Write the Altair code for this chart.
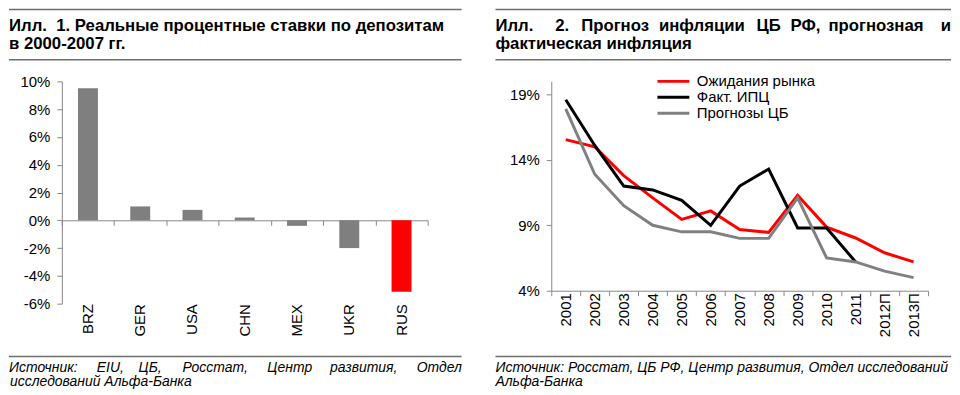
import altair as alt
import pandas as pd

FONT = "Liberation Sans"
NB = "\u00a0"

# ---- Left panel data
countries = ["BRZ", "GER", "USA", "CHN", "MEX", "UKR", "RUS"]
rates = [9.5, 1.0, 0.75, 0.2, -0.4, -2.0, -5.15]
bar_colors = ["#7f7f7f", "#7f7f7f", "#7f7f7f", "#7f7f7f", "#7f7f7f", "#7f7f7f", "#ff0000"]
left_ticks = [-6, -4, -2, 0, 2, 4, 6, 8, 10]

# ---- Right panel data
years = ["2001", "2002", "2003", "2004", "2005", "2006", "2007", "2008",
         "2009", "2010", "2011", "2012П", "2013П"]
market = [15.55, 15.0, 12.8, 11.1, 9.45, 10.1, 8.67, 8.46, 11.3, 8.86, 8.03, 6.9, 6.2]
cpi = [18.6, 15.1, 12.0, 11.7, 10.9, 9.0, 12.0, 13.3, 8.8, 8.8, 6.2, None, None]
cbr = [17.9, 12.9, 10.5, 9.0, 8.5, 8.5, 8.0, 8.0, 11.1, 6.5, 6.2, 5.5, 5.0]
series_names = ["Ожидания рынка", "Факт. ИПЦ", "Прогнозы ЦБ"]
series_colors = ["#ff0000", "#000000", "#808080"]
right_ticks = [4, 9, 14, 19]

# ---- Texts (justified lines are split into words)
title_left_1 = "Илл." + NB + NB + "1. Реальные процентные ставки по депозитам"
title_left_2 = "в 2000-2007 гг."
title_right_1 = ["Илл.", "2.", "Прогноз", "инфляции", "ЦБ", "РФ,", "прогнозная", "и"]
title_right_2 = "фактическая инфляция"
source_left_1 = ["Источник:", "EIU,", "ЦБ,", "Росстат,", "Центр", "развития,", "Отдел"]
source_left_2 = "исследований Альфа-Банка"
source_right_1 = "Источник: Росстат, ЦБ РФ, Центр развития, Отдел исследований"
source_right_2 = "Альфа-Банка"

df_bar = pd.DataFrame({"country": countries, "rate": rates})
rows = []
for name, vals in zip(series_names, [market, cpi, cbr]):
    for y, v in zip(years, vals):
        if v is not None:
            rows.append({"year": y, "series": name, "value": v})
df_line = pd.DataFrame(rows)
one = pd.DataFrame({"k": [0]})

TITLE_SIZE = 16.8
SRC_SIZE = 14


def txt(s, x, y, size, weight="normal", style="normal", align="left"):
    return alt.Chart(one).mark_text(
        text=s, align=align, baseline="alphabetic", font=FONT, fontSize=size,
        fontWeight=weight, fontStyle=style, color="black"
    ).encode(x=alt.value(x), y=alt.value(y))


def words(ws, xs, y, size, weight="normal", style="normal"):
    return [txt(w, x, y, size, weight, style) for w, x in zip(ws, xs)]


def rule(x1, x2, y):
    return alt.Chart(one).mark_rule(color="#6e6e6e", strokeWidth=1.5).encode(
        x=alt.value(x1), x2=alt.value(x2), y=alt.value(y))


def axis_y(vals):
    return alt.Axis(values=vals, labelExpr="datum.value + '%'", title=None, grid=False,
                    tickSize=5, domainColor="#888888", tickColor="#888888", labelFontSize=15,
                    labelPadding=7, labelColor="black", labelFont=FONT)


LH = 223
yenc = alt.Y("rate:Q", scale=alt.Scale(domain=[-6, 10], nice=False, zero=False), axis=axis_y(left_ticks))
bars = alt.Chart(df_bar).mark_bar(size=20).encode(
    x=alt.X("country:N", sort=countries,
            scale=alt.Scale(paddingInner=0, paddingOuter=0),
            axis=alt.Axis(title=None, orient="bottom", labelAngle=270, domain=False, ticks=False,
                          labelFontSize=15, labelPadding=0, labelColor="black", labelFont=FONT)),
    y=yenc,
    color=alt.Color("country:N", scale=alt.Scale(domain=countries, range=bar_colors), legend=None),
)
zero_axis = alt.Chart(df_bar).mark_bar(opacity=0).encode(
    x=alt.X("country:N", sort=countries,
            axis=alt.Axis(title=None, orient="bottom", labels=False, domain=True, ticks=True,
                          tickBand="extent", offset=-(LH * 6 / 16), domainColor="#888888",
                          tickColor="#888888", tickSize=5)),
    y=yenc,
)
left_deco = [
    rule(-53, 401, -72),
    txt(title_left_1, -53, -51, TITLE_SIZE, "bold"),
    txt(title_left_2, -53, -32, TITLE_SIZE, "bold"),
    rule(-53, 401, -21.7),
    rule(-53, 401, 276),
    *words(source_left_1, [-53, 35, 77, 121, 206, 269, 356], 291.5, SRC_SIZE, style="italic"),
    txt(source_left_2, -52, 306, SRC_SIZE, style="italic"),
]
left = alt.layer(bars, zero_axis, *left_deco).resolve_axis(
    x="independent").properties(width=367, height=LH)

lines = alt.Chart(df_line).mark_line(strokeWidth=3).encode(
    x=alt.X("year:N", sort=years, bandPosition=0.5,
            scale=alt.Scale(type="band", paddingInner=0, paddingOuter=0),
            axis=alt.Axis(title=None, labelAngle=270, tickBand="extent", tickSize=5,
                          domainColor="#888888", tickColor="#888888", labelFontSize=15,
                          labelPadding=-3, labelColor="black", labelFont=FONT)),
    y=alt.Y("value:Q", scale=alt.Scale(domain=[4, 20], nice=False, zero=False), axis=axis_y(right_ticks)),
    color=alt.Color("series:N", scale=alt.Scale(domain=series_names, range=series_colors),
                    legend=alt.Legend(title=None, orient="none", legendX=115, legendY=-7.5,
                                      symbolType="M-3.2,0H3.2", symbolSize=100, symbolStrokeWidth=3,
                                      labelOffset=16, labelFontSize=15, labelFont=FONT,
                                      labelColor="black", rowPadding=0, padding=0)),
)
right_deco = [
    rule(-56, 401, -72),
    *words(title_right_1[:-1], [-56, 4, 30, 108, 206, 240, 278], -51, TITLE_SIZE, "bold"),
    txt(title_right_1[-1], 401, -51, TITLE_SIZE, "bold", align="right"),
    txt(title_right_2, -56, -32, TITLE_SIZE, "bold"),
    rule(-56, 401, -21.7),
    rule(-56, 401, 276),
    txt(source_right_1, -56, 291.5, SRC_SIZE, style="italic"),
    txt(source_right_2, -56, 306, SRC_SIZE, style="italic"),
]
right = alt.layer(lines, *right_deco).properties(width=378, height=210)

chart = (alt.hconcat(left, right, spacing=124, bounds="flush")
         .resolve_scale(color="independent")
         .resolve_legend(color="independent")
         .properties(padding={"left": 0, "top": 0, "right": 0, "bottom": 0},
                     autosize=alt.AutoSizeParams(type="pad"))
         .configure_view(stroke=None))

chart.save("out.html", embed_options={"renderer": "svg", "actions": False})
